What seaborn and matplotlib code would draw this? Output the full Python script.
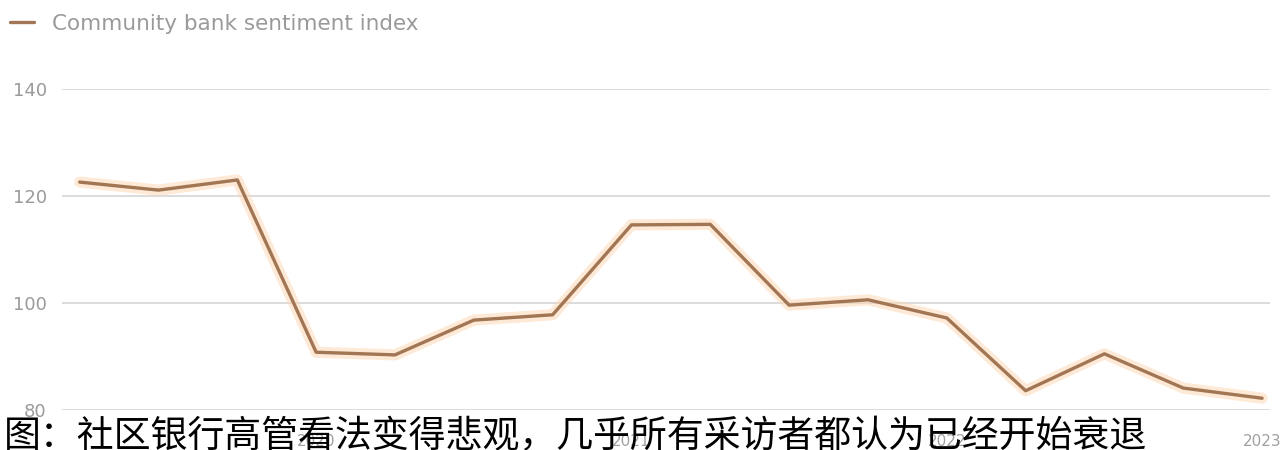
import matplotlib
matplotlib.use("Agg")
import matplotlib.pyplot as plt
import seaborn as sns
import pandas as pd

# --- data ---
quarters = ["2019Q2", "2019Q3", "2019Q4", "2020Q1", "2020Q2", "2020Q3", "2020Q4",
            "2021Q1", "2021Q2", "2021Q3", "2021Q4", "2022Q1", "2022Q2", "2022Q3",
            "2022Q4", "2023Q1"]
sentiment = [122.6, 121.1, 123.0, 90.8, 90.3, 96.8, 97.8, 114.6, 114.7, 99.6,
             100.6, 97.2, 83.6, 90.5, 84.1, 82.2]
x_ticks = [2020, 2021, 2022, 2023]
y_ticks = [80, 100, 120, 140]
series_name = "Community bank sentiment index"
caption = "图：社区银行高管看法变得悲观，几乎所有采访者都认为已经开始衰退"

def q_to_year(q):
    return int(q[:4]) + (int(q[-1]) - 1) * 0.25

df = pd.DataFrame({"t": [q_to_year(q) for q in quarters], "v": sentiment})

sns.set_theme(style="white")
plt.rcParams["font.family"] = ["DejaVu Sans"]

fig = plt.figure(figsize=(12.86, 4.5), dpi=100)
ax = fig.add_axes([62 / 1286, 1 - 410 / 450, (1270 - 62) / 1286, (410 - 89) / 450])

# soft glow under the line
ax.plot(df["t"], df["v"], color="#fcd8b4", lw=8, alpha=0.55, solid_capstyle="round", zorder=2)
sns.lineplot(data=df, x="t", y="v", ax=ax, color="#a27654", lw=2.4, label=series_name, zorder=3)

ax.set_xlim(2019.194, 2023.025)
ax.set_ylim(80, 140)
ax.set_xticks(x_ticks)
ax.set_xticklabels([str(t) for t in x_ticks])
ax.set_yticks(y_ticks)
ax.set_xlabel("")
ax.set_ylabel("")
ax.yaxis.grid(True, color="#dcdcdc", lw=1.4)
ax.xaxis.grid(False)
for s in ax.spines.values():
    s.set_visible(False)
ax.tick_params(axis="y", length=0, labelsize=13, labelcolor="#9a9a9a", pad=11)
ax.tick_params(axis="x", length=0, labelsize=11, labelcolor="#a0a0a0", pad=17)

leg = ax.legend(loc="upper left", bbox_to_anchor=(10 / 1286, 1 - 14 / 450), bbox_transform=fig.transFigure,
                frameon=False, fontsize=15.5, handlelength=1.1, handletextpad=0.85, borderaxespad=0,
                borderpad=0)
for t in leg.get_texts():
    t.set_color("#9a9a9a")

fig.text(0.003, 1 - 417 / 450, caption, family=["Noto Sans CJK SC", "DejaVu Sans"], fontsize=26.6,
         color="black", ha="left", va="top", zorder=10)

fig.savefig("out.png", dpi=100)
